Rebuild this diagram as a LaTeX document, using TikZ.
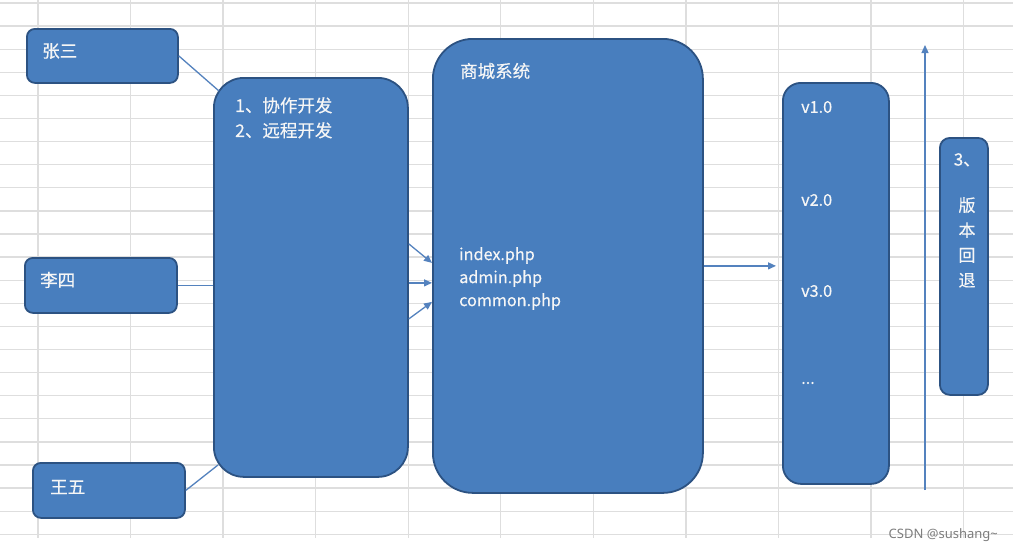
\documentclass[tikz,border=0pt]{standalone}
\usepackage{fontspec}
\setmainfont{Noto Sans CJK SC}[FakeBold=0.35]
\newfontfamily\wmfont{Noto Sans}
\usetikzlibrary{arrows.meta}
\definecolor{boxfill}{RGB}{72,126,190}
\definecolor{boxline}{RGB}{44,82,130}
\definecolor{gridc}{RGB}{222,222,222}
\definecolor{connc}{RGB}{84,130,190}
\definecolor{txtc}{RGB}{246,246,246}
\definecolor{wmc}{RGB}{125,125,125}
\begin{document}
\begin{tikzpicture}[x=1pt,y=-1pt,
  box/.style={draw=boxline, line width=1.8pt, fill=boxfill, rounded corners=#1, inner sep=0pt, anchor=north west},
  lbl/.style={text=txtc, font=\fontsize{17.5}{25}\selectfont, inner sep=0pt, anchor=west},
  lat/.style={lbl, font=\fontsize{16.2}{23}\selectfont},
  conn/.style={draw=connc, line width=1.3pt},
  arr/.style={conn, -{Triangle[length=8pt,width=7pt]}}
]
\fill[white] (0,0) rectangle (1013,552);
\useasboundingbox (0,0) rectangle (1013,552);
% grid
\foreach \k in {0,...,23} \draw[gridc, line width=1.3pt] (0,{3+23.1*\k}) -- (1013,{3+23.1*\k});
\foreach \k in {0,...,10} \draw[gridc, line width=1.3pt] ({38+92.55*\k},0) -- ({38+92.55*\k},538);

% boxes
\node[box=8pt, minimum width=151pt, minimum height=54pt] (zs) at (26,28) {};
\node[box=8pt, minimum width=152pt, minimum height=55pt] (ls) at (24,257) {};
\node[box=8pt, minimum width=152pt, minimum height=55pt] (ww) at (32,462) {};
\node[box=30pt, minimum width=194pt, minimum height=399pt] (collab) at (213,77) {};
\node[box=40pt, minimum width=270pt, minimum height=454pt] (shop) at (432,38) {};
\node[box=18pt, minimum width=106pt, minimum height=401pt] (ver) at (782,82) {};
\node[box=10pt, minimum width=48pt, minimum height=257pt] (back) at (939,137) {};

% texts
\node[lbl] (zst) at (42,51) {张三};
\node[lbl] (lst) at (40,280) {李四};
\node[lbl] (wwt) at (50,487) {王五};
\node[lbl, align=left, anchor=north west] (collabt) at (235,97) {1、协作开发\\2、远程开发};
\node[lbl] (shopt) at (460,71) {商城系统};
\node[lat, align=left, anchor=north west] (files) at (459,247) {index.php\\admin.php\\common.php};
\node[lat] (v1) at (801,107) {v1.0};
\node[lat] (v2) at (801,200) {v2.0};
\node[lat] (v3) at (801,291) {v3.0};
\node[lat] (v4) at (801,383) {...};
\node[lbl, align=center, anchor=north, font=\fontsize{17}{25}\selectfont] (backt) at (967,153) {3、\\[21pt]版\\本\\回\\退};

% connectors
\coordinate (c1) at (219,91);
\coordinate (c3) at (218,465);
\draw[conn] (zs.east) -- (c1);
\draw[conn] (ls.east) -- (ls.east -| collab.west);
\draw[conn] (ww.east) -- (c3);
\draw[arr] ([yshift=33.5pt]collab.east) -- ([yshift=3pt]shop.west);
\draw[arr] ([yshift=-5.5pt]collab.east) -- ([yshift=-17pt]shop.west);
\draw[arr] ([yshift=-41.5pt]collab.east) -- ([yshift=-36pt]shop.west);
\draw[arr] (shop.east) -- ([xshift=-6pt]shop.east -| ver.west);
\coordinate (vb) at (925,490);
\coordinate (vt) at (925,45);
\draw[arr] (vb) -- (vt);

\node[text=wmc, font=\wmfont\fontsize{13}{15}\selectfont, anchor=east, inner sep=0pt] (wm) at (998,535) {CSDN @sushang\textasciitilde};
\end{tikzpicture}
\end{document}
